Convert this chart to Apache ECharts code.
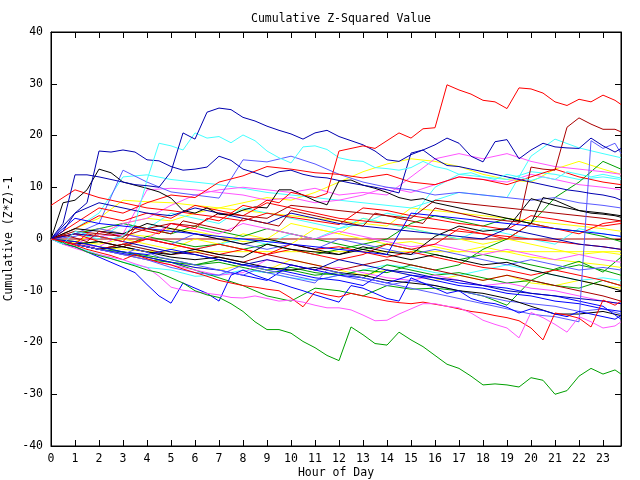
<!DOCTYPE html>
<html>
<head>
<meta charset="utf-8">
<script src="https://cdn.jsdelivr.net/npm/echarts@6/dist/echarts.min.js"></script>
<style>html,body{margin:0;padding:0;background:#fff;}#c{width:640px;height:480px;}</style>
</head>
<body>
<div id="c"></div>
<script>
// x grids (hour of day)
const hoursHalf = [0,0.5,1,1.5,2,2.5,3,3.5,4,4.5,5,5.5,6,6.5,7,7.5,8,8.5,9,9.5,10,10.5,11,11.5,12,12.5,13,13.5,14,14.5,15,15.5,16,16.5,17,17.5,18,18.5,19,19.5,20,20.5,21,21.5,22,22.5,23,23.5,23.75];
const hoursFull = [0,1,2,3,4,5,6,7,8,9,10,11,12,13,14,15,16,17,18,19,20,21,22,23,23.75];
const xTicks = [0,1,2,3,4,5,6,7,8,9,10,11,12,13,14,15,16,17,18,19,20,21,22,23];
const yTicks = [-40,-30,-20,-10,0,10,20,30,40];

// half-hour series (prominent)
const redTop = [0,-0.5,-1,1,0.5,0,-0.5,2,1.5,1, 3,2.5,2,4,3.5,5,6.5,6,7.5,7, 9,8.5,8,8.8,17,17.5,18,17.5,19,20.5, 19.5,21.3,21.5,29.8,28.8,28,26.8,26.5,25.2,29.2, 29,28.2,26.5,25.8,27,26.5,27.8,26.8,26];
const darkBlueTop = [0,3,12.4,12.4,12,11.5,11,10.5,10.3,10, 13,20.5,19.3,24.5,25.3,25,23.5,22.8,21.8,21, 20.3,19.3,20.5,21,19.8,19,18.2,17,15.3,15, 16.3,17.2,18.2,19.5,18.5,16,14.9,18.8,19.2,15.5, 17.2,18.5,17.8,17.6,17.5,19.5,18,16.8,17.5];
const cyanTop = [0,-1,1.5,1,0.5,0,0.5,3,11.4,18.5, 18,17.2,20.5,19.5,19.8,18.6,20.1,19,17,15.7, 14.7,17.8,18,17.3,15.7,15.2,15,13.8,13.6,13.3, 13.8,15,14,13.5,12.5,12.8,12,11.5,12.5,12, 11.3,12,11.5,13,12.5,12,12.5,12,11.8];
const darkBlue2 = [0,1.5,5,7,17,16.8,17.2,16.8,15.3,15.1, 14,13.3,13.5,13.9,16,15.2,13.5,12.8,12,13, 13.3,12.5,12,11.8,11.3,10.8,10.4,10,9.5,8.9, 16.6,17.2,15.5,14.2,14,13.5,13,12.5,12,11.5, 11,10.5,10,9.5,9.2,8.8,8.5,8,7.5];
const black1 = [0,7,7.5,9.5,13.5,12.8,11,10.4,9.8,9.1, 7.9,5.5,5,6,4.8,4.6,5.6,6.2,6,9.5, 9.5,8.5,7.4,6.6,11.2,11.4,10.4,9.8,9,8, 7.5,7.8,7,6.5,6,5.5,5,4.5,4,3.5, 3,8,7.5,6.5,5.5,5,4.8,4.5,4.2];
const darkRed1 = [0,0.8,0.2,-0.5,1.5,1,0.3,2.5,2,1.5, 1,3.5,3,2.5,2,1.5,4,3.5,3,2.5, 5.5,5,4.5,4,3.5,3,2.5,5,4.5,4, 3.5,3,6,5.5,5,4.5,4,3.8,3.5,3.3, 13.9,13.5,13.3,21.6,23.4,22.2,21.2,21.2,20.7];
const greenBottom = [0,-0.8,-1.5,-2.5,-3.2,-3.8,-4.5,-5.2,-6,-6.5, -7.5,-8.5,-10,-10.8,-11.3,-12.5,-14,-16,-17.5,-17.5, -18.2,-19.8,-21,-22.5,-23.5,-17,-18.5,-20.2,-20.5,-18, -19.5,-20.8,-22.5,-24.2,-25,-26.5,-28.2,-28,-28.2,-28.6, -26.8,-27.3,-30,-29.3,-26.5,-25,-26.1,-25.3,-26.1];
const pinkLow = [0,-1,-1.8,-2.5,-3,-3.5,-4,-4.8,-5.5,-7.2, -9.3,-9.9,-10.2,-10.5,-10.8,-11.3,-11.4,-11,-11.5,-12, -11.8,-12.2,-12.8,-13.3,-13.3,-13.7,-14.7,-15.8,-15.7,-14.5, -13.5,-12.5,-12.5,-13,-13.3,-14.3,-15.7,-16.5,-17.2,-19.1, -14.2,-15.2,-16.5,-18,-15,-16,-17.2,-16.8,-16];
const redLow = [0,-0.5,-1.2,-2,-2.6,-3.2,-4,-3,-3.8,-4.5, -5,-5.8,-6.5,-7.2,-8,-8.5,-9,-9.3,-9.7,-10, -11.4,-13.1,-10.2,-10.8,-11.2,-10.5,-11,-11.5,-12,-12.3, -12.5,-12.2,-12.6,-13,-13.5,-14,-14.3,-14.8,-15.2,-15.8, -17.2,-19.5,-14.3,-14.7,-15.3,-17,-11.8,-12.8,-12];
const blueLow = [0,-1,-1.5,-2.5,-3.5,-4.5,-5.5,-6.5,-8.8,-11, -12.4,-8.5,-9.5,-10.5,-12,-7,-6,-7,-7.8,-8.5, -9.3,-10,-10.8,-11.5,-12.2,-9,-9.5,-10.5,-11.5,-12, -7.5,-8.5,-9.5,-10.5,-10,-11.5,-12.2,-12.5,-13.2,-14.3, -13.5,-13.8,-14.5,-15,-14,-14.5,-15,-15.5,-14.8];
const lightBlueJump = [0,-0.5,-1,-1.5,-2,-2.5,-3,-2,-2.5,-3.5, -4,-4.5,-5,-5.5,-6,-6.5,-7,-6,-6.5,-7, -7.5,-8,-8.5,-6,-6.5,-7,-7.5,-8,-8.5,-9, -9.5,-10,-10.5,-11,-11.5,-12,-12.5,-13,-13.5,-14, -14.5,-14.8,-15,-15.5,-16,19,17.5,18.5,16.5];

// hourly series (background)
const red3 = [0,3,6,5,7,8.5,8,11,12.2,14,13.5,12.8,12.5,11.8,12.5,11,10.5,12,11.5,10.5,12,13.5,12,11,10.5];
const red4 = [6.5,9.5,8,7,6,5.5,4.8,4.2,3.5,5,4.2,3.5,2.8,6,5.5,4.5,3.8,3,2.5,1.8,4.5,3.8,3,2.5,3];
const red5 = [0,1,-0.5,-1.5,0,-1,-2,-1,-2,-3,-1,-2,-1.5,-2.5,-3.5,-2.5,-3.5,-4.5,-5.5,-6,-7,-6,-7,-8,-9];
const red6 = [0,-1,-2,-1,0,-1,-2,-3,-2,-3,-2,-3,-4,-3,-1,-2,-1,2,1,0,3,2,1,3,3.5];
const red7 = [0,2,4.5,3.5,5,4,6.5,5.5,4.5,7,6,5,4,3.5,3,2.5,2,1.5,1,0.5,0,-0.5,-1,-1.5,-2];
const magenta2 = [0,-1,1,3,4,6.5,8.5,9.5,10,9.5,9,9.8,8.5,9,8.5,12,15.5,16.5,15.5,16.5,15,14,13.5,13,12.5];
const magenta3 = [0,-1,-2,-3,-4,-5,-6,-7,-6.5,-4,-5,-6,-5.5,-6.5,-7.5,-8,-7,-8,-9,-8.5,-9.5,-10,-11,-12,-12.5];
const magenta4 = [0,1,0.5,1,9.5,9.8,9.5,9,8.5,7.5,8,7,7.5,8.5,10,9,10.5,12,11.5,11,12.5,11.5,10.5,10,9.5];
const magenta5 = [0,-1,-1.5,1,0,3,2,1,3,2,1,0,1.5,0.5,-0.5,-1.5,-1,-2,-3,-2,-3,-4,-3,-4,-4.5];
const cyan2 = [0,2,5,12,12.4,11.5,11,10.5,9.8,9,8.5,8,7.5,7,6.5,6,7.5,9,8.5,8,16,19.3,17.6,16.5,15.7];
const cyan3 = [0,-1,-2,-1,-2,-3,-2,-1,0,-1,1,0,2,3,5,4,10,12.5,12,11.5,13,12.5,11.5,12,11.5];
const cyan4 = [0,-1.5,-3,-4.5,-5.5,-6,-7.2,-7,-6,-6.5,-7.5,-8,-7,-6,-5,-5.5,-6.5,-7,-6,-5,-6,-7,-8,-7.5,-8];
const cyan5 = [0,1,0,3,2,5,4,3,6,5,4,3,2,4,3,2,1,0,2,1,0,-1,2,1,0.5];
const lightBlue1 = [0,1,3,13.3,11,9.1,8.5,7.9,15.3,14.9,16,14.5,12.5,11,10,9.5,8.5,9,8.5,8,7.5,8,7,6.5,6];
const lightBlue3 = [0,-1,-2,-3,-4,-5.5,-6.5,-7,-5,-6,-7,-8,-7,-8,-9,-8,-9,-10,-11,-12,-12.5,-13,-14,-13.5,-14.5];
const lightBlue4 = [0,0.5,2,1,0,-1,1,0,-1,-2,-1,-2,0,-1,-2,-3,-2,-3,-4,-5,-4,-5,-6,-5.5,-6];
const yellow1 = [0,2,4,7.5,7.2,7,6.5,6,5.5,5,4.5,4,3.5,3,2.5,6,5.5,5,4.5,4,3.5,3,2.5,2,1.5];
const yellow2 = [0,-0.5,1,3,4,3.5,5,6,7,8,7.5,9,11,13,14.5,15.5,15,14,12.5,11.5,11,13.5,15,13.5,12.5];
const yellow3 = [0,-1,-2,-3,-3.5,-4.5,-5.5,-6,-5,-6,-4,-5,-6,-7,-6,-7,-8,-7,-8,-7,-8.5,-9,-8,-9,-9.5];
const yellow4 = [0,1,2,1,0.5,2,1.5,0.5,-0.5,0,-1,2,1,0,-1,-0.5,-1.5,-2.5,-1.5,-2.5,-3.5,-4,-4.5,-5,-5.5];
const yellow5 = [0,-0.5,-1,0,-1,-2,0,-1,1,0,3,2,1,4,3,2,1,0,-1,0,-1,-2,-3,-2.5,-3];
const yellowFlat = [0,-0.8,-1.5,-2,-2.4,-2.45,-2.45,-2.45,-2.45,-2.45,-2.45,-2.45,-2.45,-2.45,-2.45,-2.45,-2.45,-2.45,-2.45,-2.45,-2.45,-2.45,-2.45,-2.45,-2.45];
const green2 = [0,-1,-2,-3,-4,-4.5,-6,-7.5,-9,-11,-12,-9.5,-10,-11,-9,-9.7,-9.5,-10,-11,-12.8,-8,-5.8,-4.3,-6.4,-3.5];
const green3 = [0,-1,-2,-2.5,-3.5,-4.5,-5,-4,-5,-6,-5.5,-6.5,-7,-6,-6.5,-5,-6,-5,-2,0,3,8,11,15,13.5];
const green4 = [0,-0.5,-1.5,-2.5,-3.2,-4,-5,-4.5,-5.5,-6.5,-6,-7,-6.5,-7.5,-5,-6,-7,-6.5,-7.5,-8.5,-8,-9,-9.5,-8,-9];
const green5 = [0,-1,-0.5,-1.5,0.5,-0.5,-1.5,-1,-2,-1,-2,-3,-2,-1,0,3,4.5,3.5,2.5,4,3,2,1.5,0.5,-0.5];
const green6 = [0,1,2,3,2,1,2.5,1.5,0.5,2,1,0,-1,-2,-1,-2,-3,-4,-3,-4,-5,-6,-5,-6,-7];
const darkRed2 = [0,1.5,1,0.5,2,3,2.5,5,4.5,4,6.5,6,5.5,5,4.5,4,7.5,7,6.5,6,5.5,5,4.5,4,3.5];
const darkRed3 = [0,-1,-2,-1,-2,-3,-2.5,-3.5,-4.5,-3,-4,-5,-6,-5,-4,-5,-6,-7,-8,-7,-8,-9,-10,-11,-12];
const darkRedFlat = [0,0,0,0,0,0,0,0,0,0,0,0,0,0,0,0,0,0,0,0,0,0,0,0,0];
const black2 = [0,-1,-2,-1.5,-2.5,-3,-2,-3,-3.5,-1,-2,-2.5,-3,-1.5,-2.5,-3,0.5,2.5,1.5,2,7.8,6.5,5.5,5,4.5];
const black3 = [0,-1,-0.5,-1.5,-2.5,-3.5,-4,-3.5,-4.5,-5.5,-6,-5.5,-6.5,-7,-8,-8.5,-9,-10,-10.5,-11.5,-13,-14.5,-14.5,-14,-14.8];
const black4 = [0,2,1.5,1,3,2,1,0,-1,0,-1,-2,-3,-2,-3,-4,-3,-4,-5,-4.5,-6,-7,-8,-9,-10];
const blue2 = [0,-1,-2,-2.8,-3.5,-4.5,-5.5,-6,-7,-8,-5,-6,-7,-7.5,-8.5,-7,-8,-9,-9.5,-10.5,-11,-12,-12.5,-13.5,-14];
const blue3 = [0,-0.5,-1.5,-2.5,-3,-2,-3,-4,-5,-5.5,-6.5,-7.5,-8,-9,-6,-7,-7.5,-8.5,-9,-9.5,-10.5,-11,-12,-13,-15.5];
const blue4 = [0,1,0.5,-0.5,-1.5,-2.5,-3,-4,-5,-4,-5,-6,-4,-5,-6,-6.5,-7.5,-8,-9,-10,-10.5,-11,-11.5,-12,-12.5];
const blue5 = [0,4,3,2.5,2,1.5,1,0.5,0,-0.5,-1,-1.5,-2,-2.5,-3,5,4.5,4,3.5,3,2.5,2,1.5,1,0.5];
const blue6 = [0,5,7,6,5,4.5,6,5,4,3,5,4,3,2.5,2,1.5,1,0.5,0,2,1,0,-1,-1.5,-2];

// styles (kept apart from data)
const C = {red:'#ff0000', dred:'#aa0000', green:'#00a000', blue:'#0000ff', dblue:'#0000b0',
  lblue:'#5a5aff', mag:'#ff55ff', cyan:'#44ffff', yel:'#ffff00', blk:'#000000'};
const seriesList = [
  [darkRedFlat,C.dred],[yellowFlat,C.yel],
  [yellow3,C.yel],[yellow4,C.yel],[yellow5,C.yel],[yellow1,C.yel],[yellow2,C.yel],
  [cyan4,C.cyan],[cyan5,C.cyan],[cyan3,C.cyan],[cyan2,C.cyan],
  [green4,C.green],[green6,C.green],[green5,C.green],[green2,C.green],[green3,C.green],
  [magenta3,C.mag],[magenta5,C.mag],[magenta4,C.mag],[magenta2,C.mag],
  [lightBlue3,C.lblue],[lightBlue4,C.lblue],[lightBlue1,C.lblue],
  [red5,C.red],[red6,C.red],[red7,C.red],[red3,C.red],[red4,C.red],
  [darkRed2,C.dred],[darkRed3,C.dred],[black2,C.blk],[black3,C.blk],[black4,C.blk],
  [blue2,C.blue],[blue3,C.blue],[blue4,C.dblue],[blue5,C.blue],[blue6,C.dblue],
  [lightBlueJump,C.lblue],[blueLow,C.blue],[redLow,C.red],[pinkLow,C.mag],[greenBottom,C.green],
  [darkRed1,C.dred],[black1,C.blk],[darkBlue2,C.dblue],[cyanTop,C.cyan],[darkBlueTop,C.dblue],[redTop,C.red]
];

const FONT = '"DejaVu Sans Mono", monospace';
const txt = {fontFamily: FONT, fontSize: 11.5, color: '#000'};

const series = seriesList.map(function (s, i) {
  const vals = s[0];
  const xs = vals.length === hoursHalf.length ? hoursHalf : hoursFull;
  return {
    type: 'line', name: 's' + i, showSymbol: false, symbol: 'none',
    data: vals.map(function (v, j) { return [xs[j], v]; }),
    lineStyle: {color: s[1], width: 1}, itemStyle: {color: s[1]},
    silent: true, z: 2
  };
});

function xAxisBase(pos) {
  return {
    type: 'value', position: pos, min: 0, max: 23.75, interval: 1,
    axisLine: {show: true, onZero: false, lineStyle: {color: '#000', width: 1}},
    axisTick: {show: true, inside: true, length: 6, lineStyle: {color: '#000'}},
    splitLine: {show: false}
  };
}
function yAxisBase(pos) {
  return {
    type: 'value', position: pos, min: -40, max: 40, interval: 10,
    axisLine: {show: true, onZero: false, lineStyle: {color: '#000', width: 1}},
    axisTick: {show: true, inside: true, length: 6, lineStyle: {color: '#000'}},
    splitLine: {show: false}
  };
}

const xb = xAxisBase('bottom');
xb.name = 'Hour of Day'; xb.nameLocation = 'middle'; xb.nameGap = 21; xb.nameMoveOverlap = false; xb.nameTextStyle = txt;
xb.axisLabel = Object.assign({margin: 7, formatter: function (v) { return xTicks.indexOf(v) >= 0 ? String(v) : ''; }}, txt);
const xt = xAxisBase('top'); xt.axisLabel = {show: false};
const yl = yAxisBase('left');
yl.name = 'Cumulative (Z*Z)-1'; yl.nameLocation = 'middle'; yl.nameGap = 36; yl.nameMoveOverlap = false; yl.nameTextStyle = txt;
yl.axisLabel = Object.assign({margin: 8, formatter: function (v) { return yTicks.indexOf(v) >= 0 ? String(v) : ''; }}, txt);
const yr = yAxisBase('right'); yr.axisLabel = {show: false};

const chart = echarts.init(document.getElementById('c'), null, {renderer: 'canvas'});
chart.setOption({
  animation: false,
  backgroundColor: '#fff',
  title: {text: 'Cumulative Z-Squared Value', left: 336, top: 8, textAlign: 'center',
    textStyle: {fontFamily: FONT, fontSize: 11.5, fontWeight: 'normal', color: '#000'}},
  grid: {left: 51, right: 19, top: 32, bottom: 34, show: true, borderColor: '#000', borderWidth: 1,
    containLabel: false, outerBoundsMode: 'none'},
  xAxis: [xb, xt],
  yAxis: [yl, yr],
  series: series
});
</script>
</body>
</html>
